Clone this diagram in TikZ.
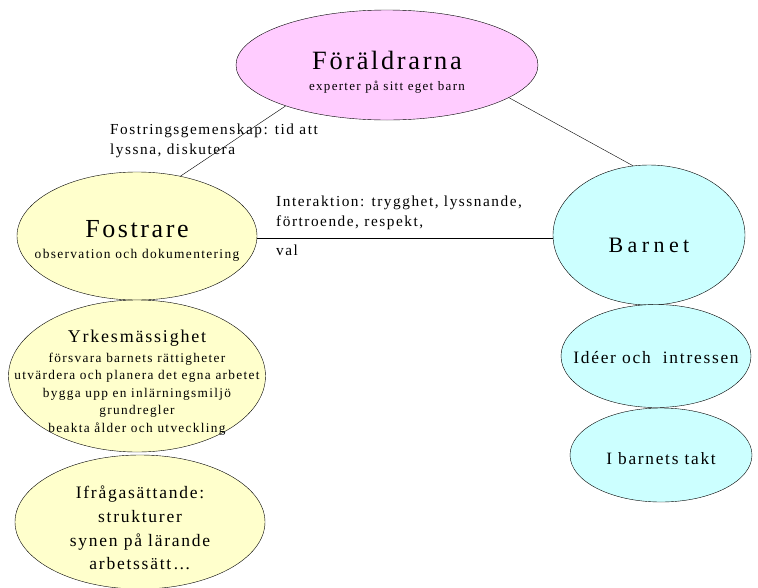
\documentclass[tikz,border=0pt]{standalone}
\usepackage{fontspec}
\setmainfont{Liberation Serif}[LetterSpace=10]
\usetikzlibrary{shapes.geometric}
\definecolor{pinkfill}{RGB}{255,204,255}
\definecolor{yellowfill}{RGB}{255,255,204}
\definecolor{cyanfill}{RGB}{204,255,255}
\newcommand{\bubblelift}[1]{\rule{0pt}{#1}}
\tikzset{bubble/.style = {ellipse, draw, inner xsep = -60pt, inner ysep = -40pt, align = center}}
\tikzset{parentbubble/.style = {bubble, fill = pinkfill}}
\tikzset{teacherbubble/.style = {bubble, fill = yellowfill}}
\tikzset{childbubble/.style = {bubble, fill = cyanfill}}
\tikzset{linklabel/.style = {inner sep = 0, align = left, font = \fontsize{15.3}{20}\selectfont}}

\begin{document}
\begin{tikzpicture}[x=1pt, y=-1pt]
    \useasboundingbox (0, 0) rectangle (758, 587);

    \node [parentbubble, minimum width = 302, minimum height = 110, font = \fontsize{13}{21}\selectfont] (foraldrar) at (387, 65)
        {\bubblelift{32pt}{\fontsize{26.4}{30}\selectfont Föräldrarna}\\ experter på sitt eget barn};

    \node [teacherbubble, minimum width = 240, minimum height = 128, font = \fontsize{13.4}{21}\selectfont] (fostrare) at (137, 236)
        {\bubblelift{27pt}{\fontsize{26}{30}\selectfont Fostrare}\\ observation och dokumentering};
    \node [teacherbubble, minimum width = 257, minimum height = 152, font = \fontsize{13.3}{17.5}\selectfont] (yrke) at (137, 376)
        {\bubblelift{25pt}{\fontsize{18}{20}\selectfont Yrkesmässighet}\\[2.5pt] försvara barnets rättigheter\\
         utvärdera och planera det egna arbetet\\ bygga upp en inlärningsmiljö\\ grundregler\\ beakta ålder och utveckling};
    \node [teacherbubble, minimum width = 250, minimum height = 134, font = \fontsize{17.5}{23.7}\selectfont] (ifraga) at (140, 522)
        {\bubblelift{25pt}Ifrågasättande:\\ strukturer\\ synen på lärande\\ arbetssätt\ldots};

    \node [childbubble, minimum width = 192, minimum height = 140, font = \fontsize{22}{24}\selectfont\addfontfeature{LetterSpace=20}] (barnet) at (649, 235)
        {\bubblelift{36pt}Barnet};
    \node [childbubble, minimum width = 190, minimum height = 103, font = \fontsize{17.4}{20}\selectfont] (ideer) at (656, 356)
        {\bubblelift{16pt}Idéer och\ \ intressen};
    \node [childbubble, minimum width = 182, minimum height = 94, font = \fontsize{17.3}{20}\selectfont] (takt) at (661, 455)
        {\bubblelift{20pt}I barnets takt};

    \draw (foraldrar.202) -- (fostrare.54);
    \draw (foraldrar.-15) -- (barnet.103);
    \draw (fostrare.-1.5) -- (fostrare.-1.5 -| barnet.west);

    \node [linklabel, anchor = north west] (gemenskap) at (110, 124) {Fostringsgemenskap: tid att\\ lyssna, diskutera};
    \node [linklabel, anchor = north west] (interaktion) at (276, 196) {Interaktion: trygghet, lyssnande,\\ förtroende, respekt,};
    \node [linklabel, anchor = base west] (val) at (276, 255) {val};
\end{tikzpicture}
\end{document}
